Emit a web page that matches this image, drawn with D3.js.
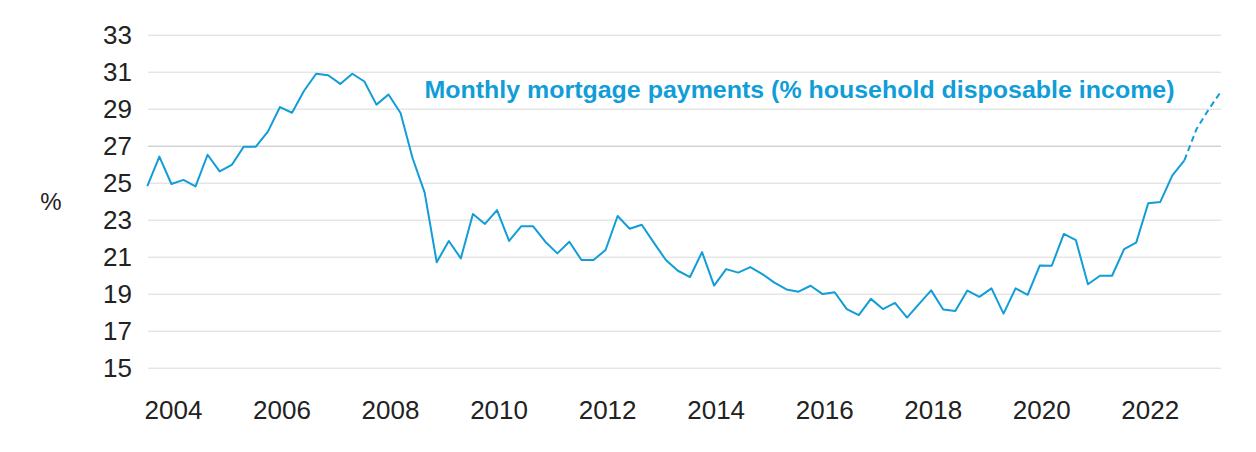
<!DOCTYPE html>
<html>
<head>
<meta charset="utf-8">
<script src="https://cdn.jsdelivr.net/npm/d3@7"></script>
<style>
  html, body { margin: 0; padding: 0; background: #fff; }
  svg { display: block; font-family: "Liberation Sans", Arial, sans-serif; }
  .axis text { fill: #222; font-size: 26px; }
  .axis .domain { display: none; }
  .grid line { stroke: #d9d9d9; stroke-width: 1; }
  .grid line.dark { stroke: #bdbdbd; }
  .series { fill: none; stroke: #119dd8; stroke-width: 2; stroke-linejoin: round; }
  .series--forecast { stroke-dasharray: 6 4; }
  .title { fill: #119dd8; font-weight: bold; font-size: 24px; }
</style>
</head>
<body>
<div id="chart"></div>
<script>
// Monthly mortgage payments, % of household disposable income
const payments = [
  24.82, 26.41, 24.93, 25.15, 24.80, 26.51, 25.61, 25.96, 26.95, 26.95,
  27.76, 29.09, 28.78, 29.97, 30.89, 30.81, 30.34, 30.89, 30.47, 29.22,
  29.77, 28.77, 26.32, 24.46, 20.70, 21.85, 20.91, 23.31, 22.77, 23.52,
  21.85, 22.64, 22.64, 21.81, 21.18, 21.81, 20.82, 20.82, 21.36, 23.20,
  22.51, 22.73, 21.76, 20.82, 20.24, 19.90, 21.25, 19.44, 20.33, 20.14,
  20.44, 20.06, 19.60, 19.23, 19.11, 19.43, 18.98, 19.08, 18.17, 17.84,
  18.72, 18.17, 18.50, 17.71, 18.45, 19.18, 18.15, 18.06, 19.17, 18.83,
  19.29, 17.92, 19.29, 18.94, 20.52, 20.51, 22.23, 21.89, 19.51, 19.97,
  19.97, 21.41, 21.76, 23.89, 23.96, 25.40, 26.21
];

// Projected values (dashed), starting from the last observed point
const projection = [26.21, 27.9, 28.95, 29.9];

const yTicks = [15, 17, 19, 21, 23, 25, 27, 29, 31, 33];
const xTicks = [2004, 2006, 2008, 2010, 2012, 2014, 2016, 2018, 2020, 2022];
const titleText = "Monthly mortgage payments (% household disposable income)";
const unitLabel = "%";

// Sampling of the series on the time axis
const firstPeriod = 2003.527;
const periodsPerYear = 4.5;

const W = 1256, H = 452;
const plot = { left: 148, right: 1221, top: 34.7, bottom: 367.7 };

const svg = d3.select("#chart").append("svg")
  .attr("width", W)
  .attr("height", H);

// Scales
const lastIndex = payments.length - 1 + projection.length - 1;
const x = d3.scaleLinear()
  .domain([firstPeriod, firstPeriod + lastIndex / periodsPerYear])
  .range([147.3, 1220.6]);
const y = d3.scaleLinear()
  .domain([15, 33])
  .range([plot.bottom, plot.top]);

// Y axis with grid lines
const gY = svg.append("g")
  .attr("class", "axis grid")
  .attr("transform", `translate(${plot.left},0)`)
  .call(d3.axisLeft(y)
    .tickValues(yTicks)
    .tickSize(-(plot.right - plot.left))
    .tickPadding(16));
gY.selectAll("line").classed("dark", d => d === 27);

// X axis
svg.append("g")
  .attr("class", "axis")
  .attr("transform", `translate(0,${plot.bottom})`)
  .call(d3.axisBottom(x)
    .tickValues(xTicks)
    .tickFormat(d3.format("d"))
    .tickSize(0)
    .tickPadding(33));

// Unit label
svg.append("text")
  .attr("class", "axis-unit")
  .attr("x", 51)
  .attr("y", 202)
  .attr("dy", "0.35em")
  .attr("text-anchor", "middle")
  .style("font-size", "24px")
  .style("fill", "#222")
  .text(unitLabel);

// Lines
const line = d3.line()
  .x(d => x(firstPeriod + d.i / periodsPerYear))
  .y(d => y(d.v));

const actual = payments.map((v, i) => ({ i, v }));
const offset = payments.length - 1;
const forecast = projection.map((v, j) => ({ i: offset + j, v }));

svg.append("path")
  .attr("class", "series series--forecast")
  .attr("d", line(forecast));

svg.append("path")
  .attr("class", "series")
  .attr("d", line(actual));

// Title
svg.append("text")
  .attr("class", "title")
  .attr("x", 424.5)
  .attr("y", 97.5)
  .attr("textLength", 750)
  .attr("lengthAdjust", "spacingAndGlyphs")
  .text(titleText);
</script>
</body>
</html>
